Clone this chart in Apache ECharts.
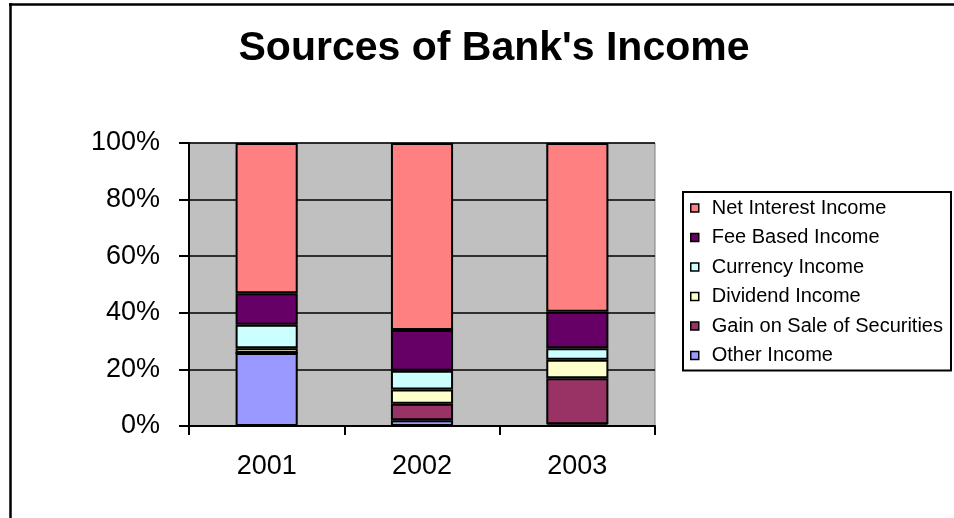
<!DOCTYPE html>
<html>
<head>
<meta charset="utf-8">
<script src="https://cdn.jsdelivr.net/npm/echarts@6/dist/echarts.min.js"></script>
<style>
  html, body { margin: 0; padding: 0; background: #ffffff; }
  #chart { width: 954px; height: 518px; }
</style>
</head>
<body>
<div id="chart"></div>
<script>
// Years on the category axis
const years = ['2001', '2002', '2003'];

// Share of total income (%) per source, one value per year
const otherIncome = [25.8, 2.0, 0.6];
const gainOnSale = [0, 5.9, 16.3];
const dividendIncome = [1.7, 5.0, 6.5];
const currencyIncome = [8.3, 6.6, 4.1];
const feeBasedIncome = [11.1, 14.4, 12.9];
const netInterestIncome = [53.1, 66.1, 59.6];

// Percentage ticks on the value axis
const yTicks = [0, 20, 40, 60, 80, 100];

const FONT = '"Liberation Sans", Arial, sans-serif';

// Stack order from bottom to top
const stackSeries = [
  { name: 'Other Income', data: otherIncome, color: '#9999FF' },
  { name: 'Gain on Sale of Securities', data: gainOnSale, color: '#993366' },
  { name: 'Dividend Income', data: dividendIncome, color: '#FFFFCC' },
  { name: 'Currency Income', data: currencyIncome, color: '#CCFFFF' },
  { name: 'Fee Based Income', data: feeBasedIncome, color: '#660066' },
  { name: 'Net Interest Income', data: netInterestIncome, color: '#FF8080' }
];

const chart = echarts.init(document.getElementById('chart'), null, { renderer: 'canvas' });

chart.setOption({
  animation: false,
  backgroundColor: '#ffffff',
  title: {
    text: "Sources of Bank's Income",
    left: 489,
    textAlign: 'center',
    top: 23,
    textStyle: { fontFamily: FONT, fontSize: 41, fontWeight: 'bold', color: '#000' }
  },
  grid: {
    left: 189, top: 143, width: 466, height: 283,
    show: true, backgroundColor: '#C0C0C0', borderColor: '#808080', borderWidth: 1
  },
  legend: {
    orient: 'vertical',
    left: 683, top: 192,
    padding: [6, 8, 5, 7],
    borderColor: '#000', borderWidth: 2,
    itemWidth: 8, itemHeight: 8, itemGap: 9.5,
    icon: 'rect',
    itemStyle: { borderColor: '#000', borderWidth: 1.5 },
    textStyle: { fontFamily: FONT, fontSize: 20, color: '#000', padding: [0, 0, 0, 8] },
    data: stackSeries.slice().reverse().map(s => s.name)
  },
  xAxis: {
    type: 'category',
    data: years,
    boundaryGap: true,
    axisLine: { lineStyle: { color: '#000', width: 2 } },
    axisTick: { show: true, length: 9, lineStyle: { color: '#000', width: 2 } },
    axisLabel: { fontFamily: FONT, fontSize: 27, color: '#000', margin: 27 },
    splitLine: { show: false }
  },
  yAxis: {
    type: 'value',
    min: yTicks[0], max: yTicks[yTicks.length - 1], interval: yTicks[1] - yTicks[0],
    axisLine: { show: true, lineStyle: { color: '#000', width: 2 } },
    axisTick: { show: true, length: 10, lineStyle: { color: '#000', width: 2 } },
    axisLabel: { fontFamily: FONT, fontSize: 27, color: '#000', margin: 29, formatter: '{value}%' },
    splitLine: { show: true, lineStyle: { color: '#000', width: 1.5 } }
  },
  series: stackSeries.map(s => ({
    name: s.name,
    type: 'bar',
    stack: 'income',
    barWidth: '40%',
    data: s.data,
    itemStyle: { color: s.color, borderColor: '#000', borderWidth: 2 }
  })),
  graphic: [
    { type: 'line', shape: { x1: 9, y1: 4.5, x2: 954, y2: 4.5 }, style: { stroke: '#000', lineWidth: 2.5 } },
    { type: 'line', shape: { x1: 10.5, y1: 3, x2: 10.5, y2: 518 }, style: { stroke: '#000', lineWidth: 2.5 } }
  ]
});
</script>
</body>
</html>
